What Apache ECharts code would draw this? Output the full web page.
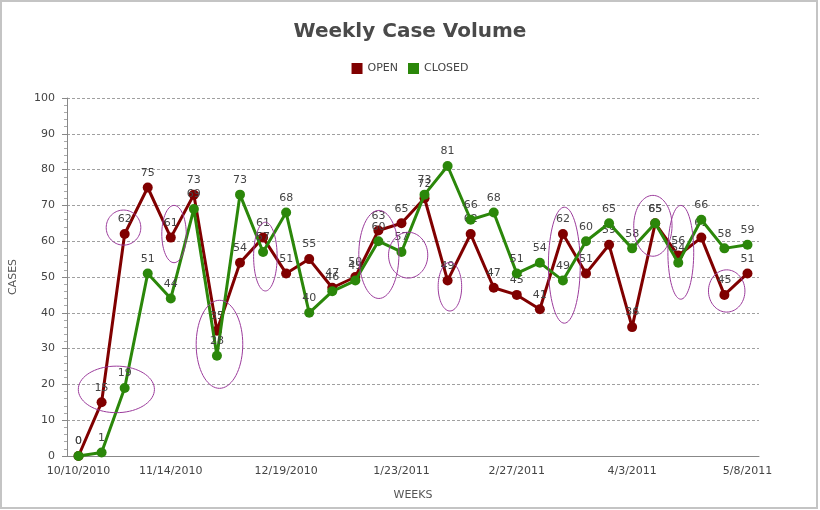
<!DOCTYPE html>
<html>
<head>
<meta charset="utf-8">
<script src="https://cdn.jsdelivr.net/npm/echarts@6/dist/echarts.min.js"></script>
<style>
  html, body { margin: 0; padding: 0; background: #fff; }
  #chart { width: 820px; height: 510px; }
</style>
</head>
<body>
<div id="chart"></div>
<script>
// weeks on the x axis
var weeks = ['10/10/2010', '10/17/2010', '10/24/2010', '10/31/2010', '11/14/2010',
  '11/21/2010', '11/28/2010', '12/5/2010', '12/12/2010', '12/19/2010',
  '12/26/2010', '1/2/2011', '1/9/2011', '1/16/2011', '1/23/2011',
  '1/30/2011', '2/6/2011', '2/13/2011', '2/20/2011', '2/27/2011',
  '3/6/2011', '3/13/2011', '3/20/2011', '3/27/2011', '4/3/2011',
  '4/10/2011', '4/17/2011', '4/24/2011', '5/1/2011', '5/8/2011'];

var openCases = [0, 15, 62, 75, 61, 73, 35, 54, 61, 51,
  55, 47, 50, 63, 65, 72, 49, 62, 47, 45,
  41, 62, 51, 59, 36, 65, 56, 61, 45, 51];

var closedCases = [0, 1, 19, 51, 44, 69, 28, 73, 57, 68,
  40, 46, 49, 60, 57, 73, 81, 66, 68, 51,
  54, 49, 60, 65, 58, 65, 54, 66, 58, 59];

// hand drawn rings: [week index, cases, half width in weeks, half height in cases]
var rings = [
  [1.64, 18.6, 1.65, 6.5],
  [1.95, 63.8, 0.75, 4.9],
  [4.14, 62.0, 0.53, 8.0],
  [6.11, 31.2, 1.01, 12.3],
  [8.10, 55.7, 0.51, 9.6],
  [13.02, 56.3, 0.87, 12.3],
  [14.29, 56.1, 0.85, 6.4],
  [16.10, 47.3, 0.51, 6.8],
  [21.06, 53.3, 0.69, 16.2],
  [24.90, 64.3, 0.83, 8.5],
  [26.11, 56.9, 0.56, 13.1],
  [28.10, 46.1, 0.79, 5.9]
];

var font = 'DejaVu Sans';
var chart = echarts.init(document.getElementById('chart'));

var option = {
  animation: false,
  textStyle: { fontFamily: font },
  title: {
    text: 'Weekly Case Volume',
    left: 'center',
    top: 17,
    textStyle: { fontSize: 20, fontWeight: 'bold', color: '#4a4a4a', fontFamily: font }
  },
  legend: {
    top: 58,
    left: 'center',
    icon: 'rect',
    itemWidth: 11,
    itemHeight: 11,
    itemGap: 10,
    textStyle: { color: '#444', fontSize: 11, fontFamily: font },
    data: ['OPEN', 'CLOSED']
  },
  graphic: [{
    type: 'rect',
    shape: { x: 1, y: 1, width: 816, height: 507 },
    style: { fill: 'none', stroke: '#c4c4c4', lineWidth: 2 },
    silent: true
  }],
  grid: { left: 67, right: 61, top: 98, bottom: 54 },
  xAxis: [{
    type: 'category',
    data: weeks,
    boundaryGap: true,
    name: 'WEEKS',
    nameLocation: 'middle',
    nameGap: 34,
    nameTextStyle: { color: '#555', fontSize: 11 },
    axisLine: { lineStyle: { color: '#888' } },
    axisTick: { interval: 0, length: 5, lineStyle: { color: '#888' } },
    axisLabel: {
      interval: function (i) { return i === 0 || (i + 1) % 5 === 0; },
      color: '#444',
      fontSize: 11,
      margin: 10
    },
    splitLine: { show: false }
  }, {
    type: 'value',
    min: -0.5,
    max: weeks.length - 0.5,
    show: false
  }],
  yAxis: {
    type: 'value',
    min: 0,
    max: 100,
    interval: 10,
    name: 'CASES',
    nameLocation: 'middle',
    nameGap: 48,
    nameTextStyle: { color: '#555', fontSize: 11 },
    axisLine: { show: true, onZero: false, lineStyle: { color: '#888' } },
    axisTick: { show: true, length: 5, lineStyle: { color: '#888' } },
    minorTick: { show: true, splitNumber: 5, length: 3, lineStyle: { color: '#aaa' } },
    axisLabel: { color: '#444', fontSize: 11, margin: 12 },
    splitLine: { lineStyle: { color: '#a0a0a0', type: [3, 2] } }
  },
  series: [
    {
      name: 'OPEN',
      type: 'line',
      data: openCases,
      color: '#800000',
      symbol: 'circle',
      symbolSize: 10,
      lineStyle: { width: 3 },
      label: { show: true, position: 'top', color: '#444', fontSize: 11, distance: 4 },
      z: 3
    },
    {
      name: 'CLOSED',
      type: 'line',
      data: closedCases,
      color: '#2b870a',
      symbol: 'circle',
      symbolSize: 10,
      lineStyle: { width: 3 },
      label: { show: true, position: 'top', color: '#444', fontSize: 11, distance: 4 },
      z: 4
    },
    {
      type: 'custom',
      xAxisIndex: 1,
      silent: true,
      z: 6,
      data: rings,
      renderItem: function (params, api) {
        var c = api.coord([api.value(0), api.value(1)]);
        var s = api.size([api.value(2), api.value(3)]);
        var pts = [];
        for (var k = 0; k < 72; k++) {
          var a = k / 72 * Math.PI * 2;
          pts.push([c[0] + s[0] * Math.cos(a), c[1] + s[1] * Math.sin(a)]);
        }
        return {
          type: 'polygon',
          shape: { points: pts },
          style: { fill: 'none', stroke: '#9b3b9b', lineWidth: 1 }
        };
      }
    }
  ]
};

chart.setOption(option);
</script>
</body>
</html>
